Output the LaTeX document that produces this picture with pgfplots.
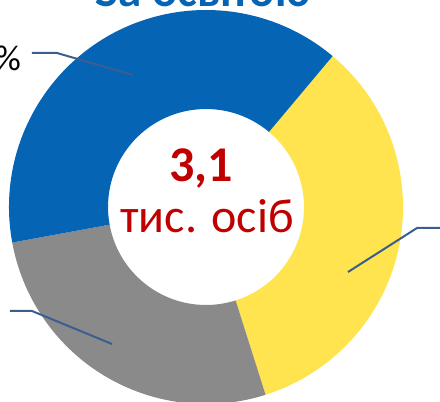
\documentclass[border=0pt]{standalone}
\usepackage{fontspec}
\setmainfont{Carlito}
\usepackage{pgfplots}
\usepackage{pgfplotstable}
\pgfplotsset{compat=1.18}
\definecolor{cblue}{RGB}{6,100,180}
\definecolor{cyellow}{RGB}{255,228,80}
\definecolor{cgray}{RGB}{138,138,138}
\definecolor{cred}{RGB}{192,0,0}
\definecolor{cline}{RGB}{59,94,145}
\pgfplotstableread{
label value
yellow 34
gray 27
blue 39
}\datatable
\begin{document}
\begin{tikzpicture}
\pgfplotstablegetelem{0}{value}\of\datatable \let\va\pgfplotsretval
\pgfplotstablegetelem{1}{value}\of\datatable \let\vb\pgfplotsretval
\pgfplotstablegetelem{2}{value}\of\datatable \let\vc\pgfplotsretval
\pgfmathsetmacro\aA{50}
\pgfmathsetmacro\aB{\aA-3.6*\va}
\pgfmathsetmacro\aC{\aB-3.6*\vb}
\pgfmathsetmacro\aD{\aC-3.6*\vc}
\begin{axis}[name=ax, at={(0,0)}, anchor=south west, width=440pt, height=402pt,
  scale only axis, axis lines=none, xmin=0, xmax=440, ymin=0, ymax=402, clip=false]
\coordinate (C) at (axis cs:206,195);
\fill[cyellow] ([shift={(\aA:197pt)}]C) arc[start angle=\aA, end angle=\aB, radius=197pt] -- ([shift={(\aB:98pt)}]C) arc[start angle=\aB, end angle=\aA, radius=98pt] -- cycle;
\fill[cgray] ([shift={(\aB:197pt)}]C) arc[start angle=\aB, end angle=\aC, radius=197pt] -- ([shift={(\aC:98pt)}]C) arc[start angle=\aC, end angle=\aB, radius=98pt] -- cycle;
\fill[cblue] ([shift={(\aC:197pt)}]C) arc[start angle=\aC, end angle=\aD, radius=197pt] -- ([shift={(\aD:98pt)}]C) arc[start angle=\aD, end angle=\aC, radius=98pt] -- cycle;
\addplot[cline, line width=2pt] coordinates {(32,349) (57,349) (133,327)};
\addplot[cline, line width=2pt] coordinates {(450,174) (417,174) (348,130)};
\addplot[cline, line width=2pt] coordinates {(10,91) (32,91) (112,58)};
\node[font=\fontsize{36}{36}\selectfont, anchor=base east, inner sep=0] at (axis cs:21,331) {39\%};
\node[font=\fontsize{36}{36}\selectfont, anchor=base west, inner sep=0] at (axis cs:448,162) {34\%};
\node[font=\fontsize{36}{36}\selectfont, anchor=base east, inner sep=0] at (axis cs:-4,80) {27\%};
\node[font=\fontsize{47}{47}\selectfont\bfseries, text=cblue, anchor=base, inner sep=0] at (axis cs:203,395) {За освітою};
\node[font=\fontsize{50}{50}\selectfont\bfseries, text=cred, anchor=base, inner sep=0] at (axis cs:201,220) {3,1};
\node[font=\fontsize{48}{48}\selectfont, text=cred, anchor=base, inner sep=0] at (axis cs:207,169) {тис. осіб};
\end{axis}
\pgfresetboundingbox
\useasboundingbox (ax.south west) rectangle (ax.north east);
\end{tikzpicture}
\end{document}
